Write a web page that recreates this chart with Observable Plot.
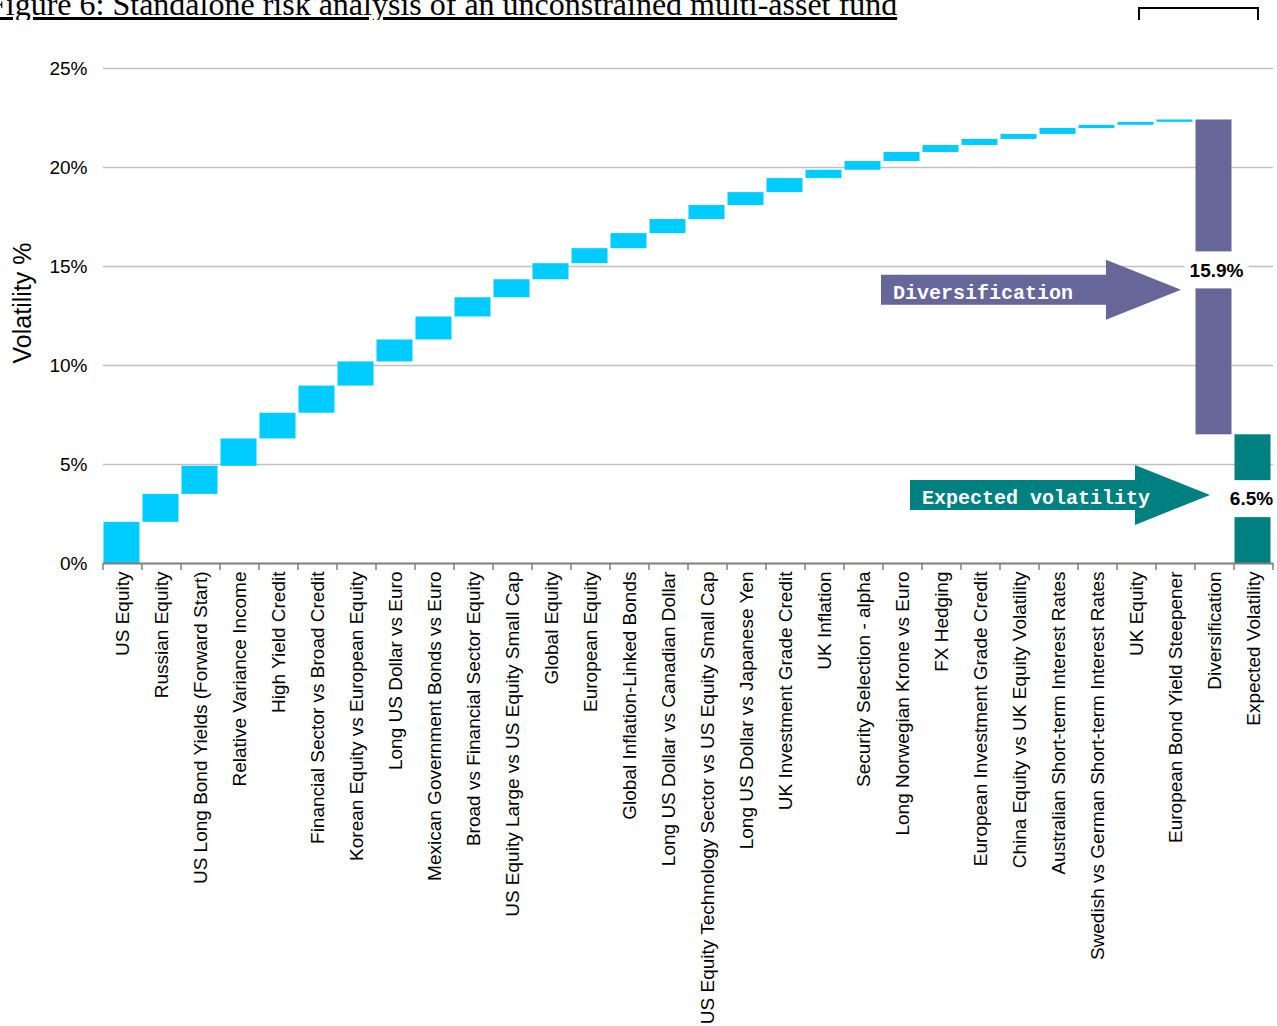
<!DOCTYPE html>
<html><head><meta charset="utf-8">
<script src="https://cdn.jsdelivr.net/npm/d3@7"></script>
<script src="https://cdn.jsdelivr.net/npm/@observablehq/plot@0.6"></script>
<style>
body{margin:0;background:#fff;overflow:hidden;}
#hdr{position:relative;height:20px;width:1277px;overflow:hidden;}
#title{position:absolute;left:-12px;top:-12px;font-family:"Liberation Serif","Times New Roman",serif;font-size:32px;line-height:32px;white-space:nowrap;text-decoration:underline;color:#000;}
#box{position:absolute;left:1138px;top:7px;width:117px;height:30px;border:2px solid #000;}
#chart{width:1277px;}
</style></head><body>
<div id="hdr"><div id="title">Figure 6: Standalone risk analysis of an unconstrained multi-asset fund</div><div id="box"></div></div>
<div id="chart"></div>
<script>
// ---- data ----
const categories = [
  "US Equity","Russian Equity","US Long Bond Yields (Forward Start)","Relative Variance Income",
  "High Yield Credit","Financial Sector vs Broad Credit","Korean Equity vs European Equity",
  "Long US Dollar vs Euro","Mexican Government Bonds vs Euro","Broad vs Financial Sector Equity",
  "US Equity Large vs US Equity Small Cap","Global Equity","European Equity","Global Inflation-Linked Bonds",
  "Long US Dollar vs Canadian Dollar","US Equity Technology Sector vs US Equity Small Cap",
  "Long US Dollar vs Japanese Yen","UK Investment Grade Credit","UK Inflation","Security Selection - alpha",
  "Long Norwegian Krone vs Euro","FX Hedging","European Investment Grade Credit",
  "China Equity vs UK Equity Volatility","Australian Short-term Interest Rates",
  "Swedish vs German Short-term Interest Rates","UK Equity","European Bond Yield Steepener"
];
const contributions = [
  2.08,1.41,1.42,1.38,1.30,1.37,1.22,1.11,1.16,0.97,
  0.91,0.81,0.76,0.76,0.71,0.71,0.65,0.71,0.42,0.44,
  0.46,0.35,0.31,0.25,0.30,0.16,0.15,0.12
];
const diversificationName = "Diversification";
const diversificationValue = 15.9;
const expectedName = "Expected Volatility";
const expectedValue = 6.5;
const yTicks = [0,5,10,15,20,25];
const yTitle = "Volatility %";
const arrowTexts = ["Diversification","Expected volatility"];

// ---- build table ----
const rows = [];
let cum = 0;
categories.forEach((c,i)=>{ rows.push({cat:c,y1:cum,y2:cum+contributions[i],kind:"item"}); cum += contributions[i]; });
rows.push({cat:diversificationName,y1:cum,y2:cum-diversificationValue,kind:"div"});
rows.push({cat:expectedName,y1:0,y2:expectedValue,kind:"exp"});
const domainX = rows.map(r=>r.cat);
const colors = {item:"#00CCFF",div:"#666699",exp:"#008080"};

const W=1277,H=1006,mL=103,mR=4,mT=48,mB=463;

const plot = Plot.plot({
  width:W,height:H,marginLeft:mL,marginRight:mR,marginTop:mT,marginBottom:mB,
  style:{fontFamily:"'Liberation Sans', Arial, sans-serif",fontSize:"19px",color:"#000",background:"#fff",overflow:"visible"},
  x:{type:"band",domain:domainX,padding:0},
  y:{domain:[0,25]},
  marks:[
    Plot.ruleY(yTicks.filter(d=>d>0),{stroke:"#c0c0c0",strokeWidth:1.5}),
    Plot.barY(rows,{x:"cat",y1:"y1",y2:"y2",fill:d=>colors[d.kind],insetLeft:0.5,insetRight:2.5}),
    Plot.ruleY([0],{stroke:"#7f7f7f",strokeWidth:2}),
    Plot.axisX({tickRotate:-90,tickSize:0,tickPadding:8,label:null}),
    Plot.axisY({ticks:yTicks,tickFormat:d=>d+"%",tickSize:0,tickPadding:16,label:null}),
    Plot.text([yTitle],{frameAnchor:"left",rotate:-90,dx:-81,dy:-13,fontSize:25,textAnchor:"middle",lineAnchor:"middle"})
  ]
});
document.getElementById("chart").appendChild(plot);

// ---- annotations using the plot's own scales ----
const sx = plot.scale("x"), sy = plot.scale("y");
const bw = sx.bandwidth;
const svg = d3.select(plot);
const y0 = sy.apply(0);
// boundary tick marks
const g0 = svg.append("g").attr("stroke","#7f7f7f").attr("stroke-width",1.5);
domainX.forEach(c=>{ const x=sx.apply(c); g0.append("line").attr("x1",x).attr("x2",x).attr("y1",y0).attr("y2",y0+7); });
{ const x=sx.apply(domainX[domainX.length-1])+bw; g0.append("line").attr("x1",x).attr("x2",x).attr("y1",y0).attr("y2",y0+7); }

// value labels with white boxes
const divRow = rows[rows.length-2], expRow = rows[rows.length-1];
const labels = [
  {row:divRow,text:diversificationValue.toFixed(1)+"%",dy:-7,dx:2,w:64},
  {row:expRow,text:expectedValue.toFixed(1)+"%",dy:0,dx:-2,w:52}
];
labels.forEach(l=>{
  const cx = sx.apply(l.row.cat)+bw/2+l.dx;
  const cy = sy.apply((l.row.y1+l.row.y2)/2)+l.dy;
  svg.append("rect").attr("x",cx-l.w/2).attr("y",cy-18.5).attr("width",l.w).attr("height",37).attr("fill","#fff");
  svg.append("text").attr("x",cx).attr("y",cy).attr("dy","0.35em").attr("text-anchor","middle")
    .attr("font-weight","bold").attr("font-size",19).attr("fill","#000").text(l.text);
});

// arrows
const arrows = [
  {row:divRow,text:arrowTexts[0],value:13.8,off:-14,color:colors.div},
  {row:expRow,text:arrowTexts[1],value:3.44,off:-24,color:colors.exp}
];
arrows.forEach(a=>{
  const tx = sx.apply(a.row.cat)+a.off, ty = sy.apply(a.value);
  const L=300, hl=75, bh=15, hh=30;
  const pts = [[tx-L,ty-bh],[tx-hl,ty-bh],[tx-hl,ty-hh],[tx,ty],[tx-hl,ty+hh],[tx-hl,ty+bh],[tx-L,ty+bh]];
  svg.append("path").attr("d","M"+pts.map(p=>p.join(",")).join("L")+"Z").attr("fill",a.color);
  svg.append("text").attr("x",tx-L+12).attr("y",ty+9).attr("fill","#fff").attr("text-anchor","start")
    .attr("font-family","'Liberation Mono','Courier New',monospace").attr("font-weight","bold")
    .attr("font-size",20).text(a.text);
});
</script>
</body></html>
